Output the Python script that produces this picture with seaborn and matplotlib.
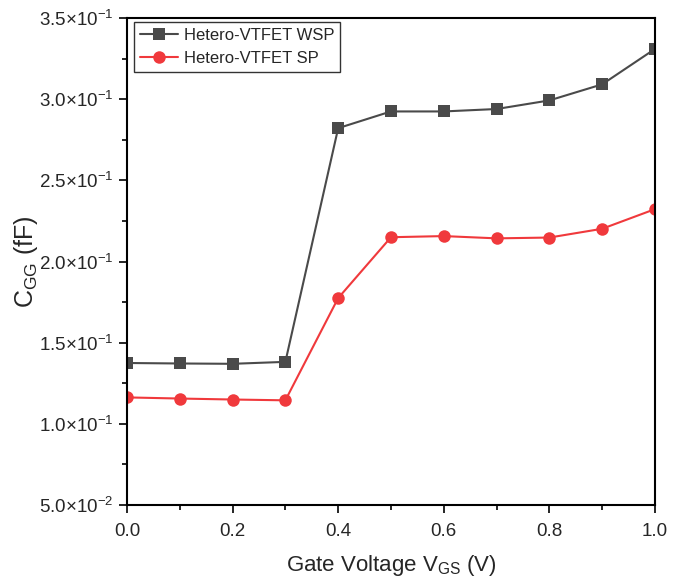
import matplotlib
matplotlib.use("Agg")
import matplotlib.pyplot as plt
import seaborn as sns
import pandas as pd
from matplotlib.ticker import FixedLocator, FuncFormatter, MultipleLocator

vgs = [0.0, 0.1, 0.2, 0.3, 0.4, 0.5, 0.6, 0.7, 0.8, 0.9, 1.0]
cgg_wsp = [0.1375, 0.1372, 0.1370, 0.1382, 0.2822, 0.2925, 0.2925, 0.2940, 0.2993, 0.3092, 0.3310]
cgg_sp = [0.1163, 0.1156, 0.1150, 0.1145, 0.1775, 0.2150, 0.2157, 0.2143, 0.2148, 0.2202, 0.2323]
series_names = ["Hetero-VTFET WSP", "Hetero-VTFET SP"]
yticks = [0.05, 0.10, 0.15, 0.20, 0.25, 0.30, 0.35]
ytick_labels = [r"$\mathregular{5.0{\times}10^{-2}}$", r"$\mathregular{1.0{\times}10^{-1}}$",
                r"$\mathregular{1.5{\times}10^{-1}}$", r"$\mathregular{2.0{\times}10^{-1}}$",
                r"$\mathregular{2.5{\times}10^{-1}}$", r"$\mathregular{3.0{\times}10^{-1}}$",
                r"$\mathregular{3.5{\times}10^{-1}}$"]

sns.set_style("ticks")
plt.rcParams['font.family'] = ['Liberation Sans', 'DejaVu Sans']
plt.rcParams['mathtext.fontset'] = 'custom'
plt.rcParams['mathtext.rm'] = 'Liberation Sans'
plt.rcParams['mathtext.it'] = 'Liberation Sans'

fig = plt.figure(figsize=(6.78, 5.81), dpi=100)
ax = fig.add_axes([0.1873, 0.1308, 0.7787, 0.838])

df1 = pd.DataFrame({"x": vgs, "y": cgg_wsp})
df2 = pd.DataFrame({"x": vgs, "y": cgg_sp})
sns.lineplot(data=df1, x="x", y="y", ax=ax, color="#4a4a4a", marker="s", markersize=8,
             markeredgewidth=0, linewidth=1.5, label=series_names[0])
sns.lineplot(data=df2, x="x", y="y", ax=ax, color="#f0393c", marker="o", markersize=9,
             markeredgewidth=0, linewidth=1.5, label=series_names[1])

ax.set_xlim(0, 1.0)
ax.set_ylim(0.05, 0.35)
ax.xaxis.set_major_locator(MultipleLocator(0.2))
ax.xaxis.set_minor_locator(MultipleLocator(0.1))
ax.xaxis.set_major_formatter(FuncFormatter(lambda v, p: f"{v:.1f}"))
ax.yaxis.set_major_locator(FixedLocator(yticks))
ax.set_yticklabels(ytick_labels)
ax.yaxis.set_minor_locator(MultipleLocator(0.025))
ax.tick_params(axis="both", which="major", direction="out", length=6, width=1.2, labelsize=13.5, color="black")
ax.tick_params(axis="x", which="major", pad=7)
ax.tick_params(axis="both", which="minor", direction="out", length=3.5, width=1.2, color="black")
for s in ax.spines.values():
    s.set_linewidth(1.5)
    s.set_color("black")

ax.set_xlabel(r"Gate Voltage V$\mathregular{_{GS}}$ (V)", fontsize=16)
ax.xaxis.set_label_coords(0.5, -0.098)
ax.set_ylabel(r"C$\mathregular{_{GG}}$ (fF)", fontsize=18)
ax.yaxis.set_label_coords(-0.165, 0.5)

leg = ax.legend(loc="upper left", bbox_to_anchor=(0.013, 0.992), borderaxespad=0, fontsize=12,
                frameon=True, fancybox=False, edgecolor="black", handlelength=2.3, borderpad=0.35,
                labelspacing=0.5, handletextpad=0.35)
leg.get_frame().set_linewidth(1.0)

fig.savefig("out.png", dpi=100)
